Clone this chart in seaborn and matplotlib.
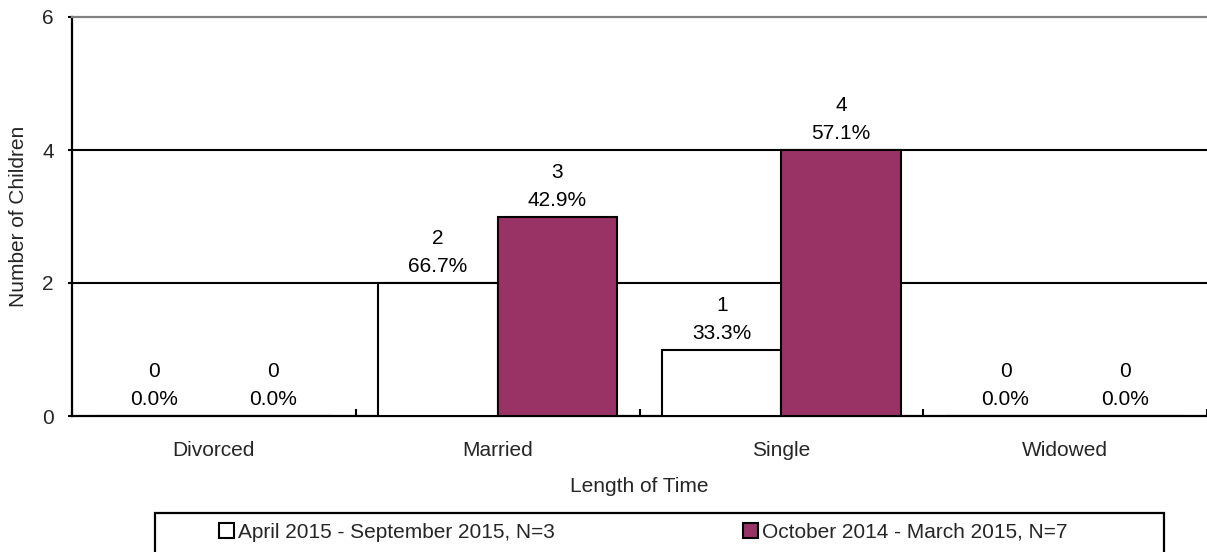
import matplotlib
matplotlib.use("Agg")
import matplotlib.pyplot as plt
from matplotlib.patches import Rectangle
import seaborn as sns
import pandas as pd

# Counts of children by marital status, two reporting periods
categories = ["Divorced", "Married", "Single", "Widowed"]
period_labels = ["April 2015 - September 2015, N=3",
                 "October 2014 - March 2015, N=7"]
counts_apr_sep = [0, 2, 1, 0]
counts_oct_mar = [0, 3, 4, 0]
pct_apr_sep = [0.0, 66.7, 33.3, 0.0]
pct_oct_mar = [0.0, 42.9, 57.1, 0.0]
y_ticks = [0, 2, 4, 6]

df = pd.DataFrame({
    "status": categories * 2,
    "period": [period_labels[0]] * 4 + [period_labels[1]] * 4,
    "count": counts_apr_sep + counts_oct_mar,
    "pct": pct_apr_sep + pct_oct_mar,
})

sns.set_theme(style="white")
plt.rcParams["font.family"] = ["Liberation Sans", "DejaVu Sans"]
FS = 15

W, H = 1207, 552
fig = plt.figure(figsize=(W / 100, H / 100), dpi=100)
ax = fig.add_axes([72 / W, 1 - 416 / H, 1 - 72 / W, (416 - 17) / H])

sns.barplot(data=df, x="status", y="count", hue="period", order=categories,
            hue_order=period_labels, palette=["white", "#993366"],
            edgecolor="black", linewidth=1.5, width=0.84, saturation=1,
            ax=ax, zorder=3, legend=True)

ax.set_xlim(-0.5, 3.5)
ax.set_ylim(0, 6)
ax.set_yticks(y_ticks)
ax.set_yticklabels([str(t) for t in y_ticks], fontsize=FS)
ax.tick_params(axis="y", direction="out", length=3, width=1.5, color="black",
               left=True, pad=10)
ax.tick_params(axis="x", which="major", length=0, labelsize=FS, pad=18)
ax.set_xticks([-0.5, 0.5, 1.5, 2.5, 3.5], minor=True)
ax.tick_params(axis="x", which="minor", direction="in", length=5, width=1.5,
               color="black", bottom=True)

for y in y_ticks[1:-1]:
    ax.axhline(y, color="black", lw=1.5, zorder=1)

for side in ["left", "bottom"]:
    ax.spines[side].set_color("black")
    ax.spines[side].set_linewidth(1.6)
ax.spines["top"].set_color("#808080")
ax.spines["top"].set_linewidth(1.6)
ax.spines["right"].set_visible(False)

ax.set_ylabel("Number of Children", fontsize=FS, labelpad=10)
ax.set_xlabel("Length of Time", fontsize=FS, labelpad=12)

# Value labels above each bar: count and share of period total
for container, counts, pcts in zip(ax.containers,
                                   [counts_apr_sep, counts_oct_mar],
                                   [pct_apr_sep, pct_oct_mar]):
    for bar, c, p in zip(container, counts, pcts):
        ax.annotate(f"{c}\n{p:.1f}%",
                    (bar.get_x() + bar.get_width() / 2, bar.get_height()),
                    xytext=(0, 5), textcoords="offset points",
                    ha="center", va="bottom", fontsize=FS,
                    linespacing=1.6, color="black")

handles, labels = ax.get_legend_handles_labels()
ax.get_legend().remove()
for h in handles:
    h.set_linewidth(1.5)


def make_legend(colspacing):
    return fig.legend(handles, labels, loc="center left",
                      bbox_to_anchor=(219 / W, (H - 532) / H),
                      ncol=2, fontsize=FS, frameon=False,
                      borderpad=0, borderaxespad=0,
                      handlelength=0.72, handleheight=0.72,
                      handletextpad=0.2, columnspacing=colspacing)


# Space the two legend columns so the second entry starts at x=743 px
leg = make_legend(2.0)
fig.canvas.draw()
r = fig.canvas.get_renderer()
text_end = leg.get_texts()[0].get_window_extent(r).x1
patch_start = leg.get_patches()[1].get_window_extent(r).x0
fs_px = FS * 100 / 72
cs = 2.0 + (743 - patch_start) / fs_px
leg.remove()
leg = make_legend(cs)

# Legend frame spanning the lower band
fig.patches.append(Rectangle((155 / W, -0.05), (1164 - 155) / W,
                             0.05 + (H - 513) / H, transform=fig.transFigure,
                             fill=False, edgecolor="black", linewidth=1.6))

fig.savefig("out.png", dpi=100, facecolor="white")
